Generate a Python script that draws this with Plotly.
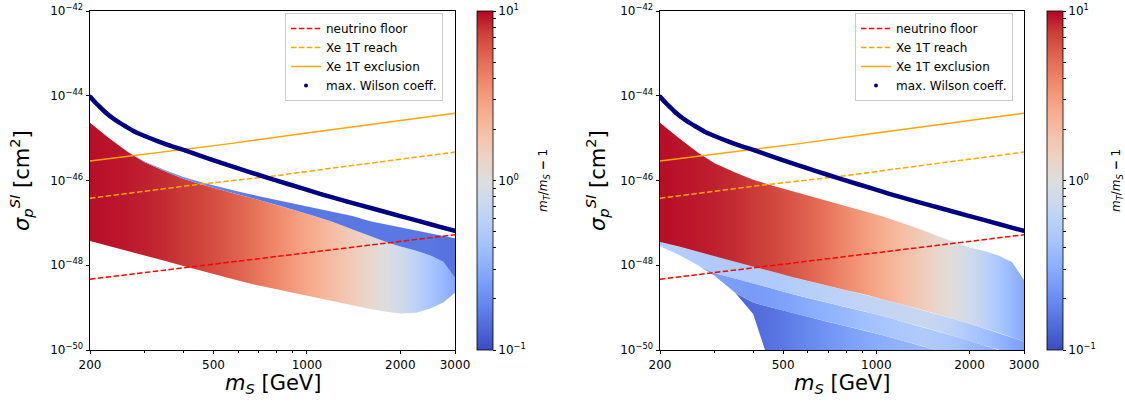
import numpy as np
import plotly.graph_objects as go
from plotly.colors import sample_colorscale

W, H = 1125, 403

# ---------------- data (mass in GeV, log10 of sigma_p^SI in cm^2) ----------------
nu_mass = [200, 500, 1000, 2000, 3000]
nu_logsig = [-48.33, -47.98, -47.71, -47.44, -47.28]

reach_mass = [200, 300, 405, 550, 790, 1200, 2000, 3000]
reach_logsig = [-46.42, -46.25, -46.13, -46.02, -45.89, -45.71, -45.50, -45.33]

excl_mass = [200, 565, 1000, 2000, 3000]
excl_logsig = [-45.54, -45.13, -44.88, -44.58, -44.41]

wil_mass = [200, 207, 215, 225, 240, 260, 279, 300, 330, 360, 405, 490, 587, 700, 790, 950,
            1108, 1350, 1606, 2000, 2328, 2700, 3000]
wil_logsig = [-44.02, -44.14, -44.26, -44.40, -44.56, -44.72, -44.85, -44.95, -45.07, -45.17,
              -45.29, -45.50, -45.69, -45.87, -45.99, -46.17, -46.32, -46.50, -46.65, -46.84,
              -46.97, -47.10, -47.19]

# scan region outlines and colour values (m_T/m_S - 1), sampled at these masses
edge_mass = [200, 230, 265, 300, 350, 400, 460, 530, 600, 700, 800, 920, 1050, 1200,
             1400, 1600, 1800, 2000, 2250, 2500, 2750, 3000]

# left panel
left_top = [-44.64, -45.00, -45.32, -45.55, -45.76, -45.92, -46.05, -46.17, -46.26, -46.37,
            -46.46, -46.55, -46.63, -46.72, -46.84, -46.96, -47.04, -47.11, -47.18, -47.25,
            -47.31, -47.36]
left_body_top = [-44.64, -45.00, -45.33, -45.57, -45.79, -45.96, -46.10, -46.23, -46.33, -46.46,
                 -46.58, -46.70, -46.83, -46.97, -47.14, -47.31, -47.45, -47.56, -47.66, -47.77,
                 -47.92, -48.30]
left_bottom = [-47.43, -47.55, -47.67, -47.77, -47.90, -48.02, -48.14, -48.26, -48.36, -48.48,
               -48.57, -48.67, -48.75, -48.84, -48.94, -49.03, -49.10, -49.14, -49.12, -49.02,
               -48.88, -48.65]
left_body_ratio = [9.5, 9.3, 9.0, 8.7, 8.2, 7.6, 7.0, 6.2, 5.5, 4.6, 3.8, 3.1, 2.5, 2.0, 1.55,
                   1.2, 1.0, 0.8, 0.6, 0.46, 0.36, 0.28]
left_fringe_ratio = [0.4, 0.35, 0.3, 0.26, 0.23, 0.21, 0.19, 0.18, 0.17, 0.16, 0.16, 0.16,
                     0.16, 0.16, 0.16, 0.16, 0.16, 0.16, 0.16, 0.16, 0.15, 0.15]

# right panel
right_top = [-44.64, -45.00, -45.34, -45.59, -45.81, -45.98, -46.12, -46.25, -46.36, -46.49,
             -46.61, -46.73, -46.85, -46.99, -47.16, -47.33, -47.47, -47.58, -47.67, -47.78,
             -47.93, -48.35]
right_split = [-47.45, -47.56, -47.68, -47.78, -47.91, -48.03, -48.15, -48.27, -48.37, -48.49,
               -48.59, -48.69, -48.80, -48.92, -49.05, -49.17, -49.28, -49.38, -49.50, -49.60,
               -49.70, -49.80]
right_mid1 = [-47.55, -47.75, -48.00, -48.18, -48.31, -48.43, -48.55, -48.67, -48.77, -48.89,
              -48.99, -49.09, -49.20, -49.32, -49.45, -49.57, -49.68, -49.78, -49.90, -50.00,
              -50.10, -50.20]
right_mid2 = [-47.55, -47.75, -48.00, -48.25, -48.65, -48.88, -49.00, -49.12, -49.22, -49.34,
              -49.44, -49.54, -49.65, -49.77, -49.90, -50.02, -50.13, -50.23, -50.35, -50.45,
              -50.50, -50.50]
right_bottom = [-47.55, -47.75, -48.00, -48.25, -48.65, -49.15, -50.5, -50.5, -50.5, -50.5,
                -50.5, -50.5, -50.5, -50.5, -50.5, -50.5, -50.5, -50.5, -50.5, -50.5,
                -50.5, -50.5]
right_body_ratio = [9.5, 9.3, 9.0, 8.7, 8.2, 7.6, 7.0, 6.2, 5.5, 4.6, 3.8, 3.1, 2.5, 2.0, 1.55,
                    1.2, 1.0, 0.8, 0.6, 0.46, 0.36, 0.28]
right_b1_ratio = [0.55, 0.53, 0.52, 0.5, 0.5, 0.5, 0.5, 0.52, 0.55, 0.58, 0.6, 0.63, 0.66,
                  0.68, 0.7, 0.66, 0.58, 0.48, 0.4, 0.34, 0.29, 0.25]
right_b2_ratio = [0.3, 0.29, 0.27, 0.26, 0.25, 0.24, 0.25, 0.27, 0.3, 0.33, 0.36, 0.4, 0.45,
                  0.48, 0.5, 0.48, 0.44, 0.38, 0.32, 0.27, 0.23, 0.2]
right_b3_ratio = [0.13, 0.13, 0.13, 0.13, 0.13, 0.14, 0.15, 0.17, 0.19, 0.22, 0.25, 0.28, 0.31,
                  0.33, 0.35, 0.35, 0.33, 0.29, 0.25, 0.21, 0.18, 0.16]

x_tick_vals = [200, 500, 1000, 2000, 3000]
x_minor_vals = [300, 400, 600, 700, 800, 900]
y_tick_exp = [-50, -48, -46, -44, -42]

# ---------------- styling ----------------
COOLWARM = [
    [0.0, 'rgb(59,76,192)'], [0.0625, 'rgb(77,104,215)'], [0.125, 'rgb(98,130,234)'],
    [0.1875, 'rgb(119,154,247)'], [0.25, 'rgb(141,176,254)'], [0.3125, 'rgb(163,194,255)'],
    [0.375, 'rgb(184,208,249)'], [0.4375, 'rgb(204,217,238)'], [0.5, 'rgb(221,221,221)'],
    [0.5625, 'rgb(236,211,197)'], [0.625, 'rgb(245,196,173)'], [0.6875, 'rgb(247,177,148)'],
    [0.75, 'rgb(244,154,123)'], [0.8125, 'rgb(236,127,99)'], [0.875, 'rgb(222,96,77)'],
    [0.9375, 'rgb(203,62,56)'], [1.0, 'rgb(180,4,38)']]

FONT = 'DejaVu Sans'
PX0, PX1 = 90, 455          # left plot area in px
QX0, QX1 = 660, 1024        # right plot area in px
TOP, BOT = 11, 350


def cmap(r):
    t = (np.log10(r) + 1.0) / 2.0
    t = min(max(t, 0.0), 1.0)
    return sample_colorscale(COOLWARM, [t])[0]


fig = go.Figure()

lm0, lm1 = np.log10(edge_mass[0]), np.log10(edge_mass[-1])


def add_band(upper, lower, ratios, xa, ya):
    stops = []
    for m, r in zip(edge_mass, ratios):
        p = (np.log10(m) - lm0) / (lm1 - lm0)
        stops.append([min(max(float(p), 0.0), 1.0), cmap(r)])
    stops[0][0] = 0.0
    stops[-1][0] = 1.0
    xs = list(edge_mass) + list(edge_mass[::-1]) + [edge_mass[0]]
    ys = [10 ** v for v in upper] + [10 ** v for v in lower[::-1]] + [10 ** upper[0]]
    fig.add_trace(go.Scatter(
        x=xs, y=ys, mode='lines', fill='toself',
        fillgradient=dict(type='horizontal', colorscale=stops),
        line=dict(width=0, color='rgba(0,0,0,0)'),
        xaxis=xa, yaxis=ya, showlegend=False, hoverinfo='skip'))


def add_colorbar_carrier(upper, lower, ratios, xa, ya, cbx):
    ys = [10 ** ((u + l) / 2) for u, l in zip(upper, lower)]
    tv, tt = [], []
    for d in (-1, 0):
        for k in range(1, 10):
            tv.append(d + np.log10(k))
            tt.append('10<sup>%s</sup>' % ('−1' if d == -1 else '0') if k == 1 else '')
    tv.append(1.0)
    tt.append('10<sup>1</sup>')
    fig.add_trace(go.Scatter(
        x=edge_mass, y=ys, mode='markers', xaxis=xa, yaxis=ya, showlegend=False, hoverinfo='skip',
        marker=dict(size=1, opacity=0, color=[np.log10(r) for r in ratios],
                    colorscale=COOLWARM, cmin=-1, cmax=1, showscale=True,
                    colorbar=dict(x=cbx, xanchor='left', y=0.5, yanchor='middle', len=1,
                                  lenmode='fraction', thickness=16, xpad=0, ypad=0,
                                  outlinewidth=0.8, outlinecolor='black',
                                  ticks='outside', ticklen=3, tickwidth=0.8, tickcolor='black',
                                  tickvals=tv, ticktext=tt,
                                  tickfont=dict(size=12, family=FONT, color='black')))))


def add_lines(xa, ya, legend):
    fig.add_trace(go.Scatter(x=nu_mass, y=[10 ** v for v in nu_logsig], mode='lines',
                             name='neutrino floor', line=dict(color='red', width=1.5, dash='5.5px,2.4px'),
                             xaxis=xa, yaxis=ya, legend=legend))
    fig.add_trace(go.Scatter(x=reach_mass, y=[10 ** v for v in reach_logsig], mode='lines',
                             name='Xe 1T reach', line=dict(color='orange', width=1.5, dash='5.5px,2.4px'),
                             xaxis=xa, yaxis=ya, legend=legend))
    fig.add_trace(go.Scatter(x=excl_mass, y=[10 ** v for v in excl_logsig], mode='lines',
                             name='Xe 1T exclusion', line=dict(color='orange', width=1.5),
                             xaxis=xa, yaxis=ya, legend=legend))
    fig.add_trace(go.Scatter(x=wil_mass, y=[10 ** v for v in wil_logsig], mode='lines',
                             line=dict(color='#000080', width=4.5, shape='spline', smoothing=0.8),
                             showlegend=False, xaxis=xa, yaxis=ya, hoverinfo='skip'))
    fig.add_trace(go.Scatter(x=wil_mass, y=[10 ** v for v in wil_logsig], mode='markers',
                             name='max. Wilson coeff.', marker=dict(color='#000080', size=4),
                             xaxis=xa, yaxis=ya, legend=legend))


# left panel
add_band(left_body_top, left_bottom, left_body_ratio, 'x', 'y')
add_band(left_top, left_body_top, left_fringe_ratio, 'x', 'y')
add_colorbar_carrier(left_body_top, left_bottom, left_body_ratio, 'x', 'y', 477 / W)
add_lines('x', 'y', 'legend')

# right panel
add_band(right_mid2, right_bottom, right_b3_ratio, 'x2', 'y2')
add_band(right_mid1, right_mid2, right_b2_ratio, 'x2', 'y2')
add_band(right_split, right_mid1, right_b1_ratio, 'x2', 'y2')
add_band(right_top, right_split, right_body_ratio, 'x2', 'y2')
add_colorbar_carrier(right_top, right_split, right_body_ratio, 'x2', 'y2', 1047 / W)
add_lines('x2', 'y2', 'legend2')


def xaxis_cfg(x0, x1, anchor):
    return dict(type='log', domain=[x0 / W, x1 / W], range=[np.log10(200), np.log10(3000)],
                tickvals=x_tick_vals, ticktext=[str(v) for v in x_tick_vals],
                ticks='outside', ticklen=3.5, tickwidth=0.8, tickcolor='black',
                showline=True, linecolor='black', linewidth=0.8, mirror=True,
                showgrid=False, zeroline=False, anchor=anchor,
                tickfont=dict(size=12, family=FONT, color='black'),
                minor=dict(tickvals=x_minor_vals, ticks='outside', ticklen=2, tickwidth=0.6,
                           tickcolor='black', showgrid=False))


def yaxis_cfg(anchor):
    return dict(type='log', domain=[0, 1], range=[-50, -42],
                tickvals=[10.0 ** e for e in y_tick_exp],
                ticktext=['10<sup>−%d</sup>' % (-e) for e in y_tick_exp],
                ticks='outside', ticklen=3.5, tickwidth=0.8, tickcolor='black',
                showline=True, linecolor='black', linewidth=0.8, mirror=True,
                showgrid=False, zeroline=False, anchor=anchor,
                tickfont=dict(size=12, family=FONT, color='black'))


def legend_cfg(xpx):
    return dict(x=xpx / W, y=(BOT - 13) / (BOT - TOP), xanchor='left', yanchor='top',
                bgcolor='rgba(255,255,255,0.85)', bordercolor='#cccccc', borderwidth=1,
                font=dict(size=12, family=FONT, color='black'), itemwidth=30,
                tracegroupgap=0)


def py(px):
    return (BOT - px) / (BOT - TOP)


annotations = []
for (x0, x1, ytx, cbl) in ((PX0, PX1, 21, 544), (QX0, QX1, 597, 1117)):
    annotations.append(dict(text='<i>m</i><sub><i>S</i></sub> [GeV]', x=(x0 + x1) / 2 / W, y=py(384),
                            xref='paper', yref='paper', showarrow=False, xanchor='center',
                            yanchor='middle', font=dict(size=21, family=FONT, color='black')))
    annotations.append(dict(text='<i>σ</i><sub><i>p</i></sub><sup><i>SI</i></sup> [cm<sup>2</sup>]',
                            x=ytx / W, y=py(181), xref='paper', yref='paper', showarrow=False,
                            xanchor='center', yanchor='middle', textangle=-90,
                            font=dict(size=21, family=FONT, color='black')))
    annotations.append(dict(text='<i>m</i><sub><i>T</i></sub>/<i>m</i><sub><i>S</i></sub> <b>−</b> 1',
                            x=cbl / W, y=py(181), xref='paper', yref='paper', showarrow=False,
                            xanchor='center', yanchor='middle', textangle=-90,
                            font=dict(size=12, family=FONT, color='black')))

fig.update_layout(
    width=W, height=H,
    margin=dict(l=0, r=0, t=TOP, b=H - BOT, autoexpand=False),
    paper_bgcolor='white', plot_bgcolor='white',
    font=dict(family=FONT, color='black'),
    xaxis=xaxis_cfg(PX0, PX1, 'y'),
    yaxis=yaxis_cfg('x'),
    xaxis2=xaxis_cfg(QX0, QX1, 'y2'),
    yaxis2=yaxis_cfg('x2'),
    legend=legend_cfg(285),
    legend2=legend_cfg(855),
    annotations=annotations,
)

fig.write_html("out.html", config={'displayModeBar': False},
               post_script="document.body.style.margin='0';document.body.style.overflow='hidden';")
